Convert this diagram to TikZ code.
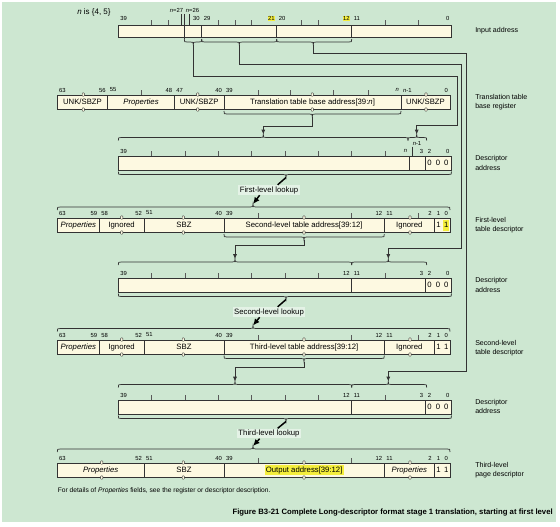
\documentclass[tikz,border=0pt]{standalone}
\usepackage{fontspec}
\setmainfont{Liberation Sans}
\usetikzlibrary{arrows.meta}
\definecolor{bggreen}{HTML}{CDE7D1}
\definecolor{cream}{HTML}{FDF9E1}
\definecolor{hiyel}{HTML}{F4EE3C}
\definecolor{ink}{HTML}{333333}
\definecolor{lookbg}{HTML}{E4F2E6}
\newcounter{labc}
\tikzset{
 cellline/.style={draw=ink, line width=0.55pt},
 celltext/.style={font=\fontsize{5.8}{6.5}\selectfont, inner sep=0pt, text=black},
 bitlab/.style={font=\fontsize{4.4}{5}\selectfont, inner sep=0.3pt, text=black},
 sidelab/.style={font=\fontsize{5.3}{7}\selectfont, align=left, anchor=west, inner sep=0pt},
 wire/.style={draw=ink, line width=0.55pt},
 tipS/.style={-{Latex[length=3.6pt,width=3pt]}},
 tickln/.style={draw=gray!70!black, line width=0.35pt},
 lookup/.style={font=\fontsize{5.8}{6.5}\selectfont, fill=lookbg, inner sep=1pt},
 lkline/.style={draw=black, line width=1.1pt},
 brkmark/.style={draw=ink, line width=0.3pt, fill=cream, rounded corners=0.5pt},
}
% cell: [node style]{name}{x1}{x2}{top}{bot}{text}
\newcommand\cell[7][]{%
  \draw[cellline,fill=cream] (#3,#5) rectangle (#4,#6);
  \node[celltext,#1] (#2) at ({(#3+#4)/2},{(#5+#6)/2}) {#7};}
% bit label: anchor x y text
\newcommand\bl[4]{\stepcounter{labc}\node[bitlab,anchor=#1] (lab\arabic{labc}) at (#2,#3) {#4};}
\newcommand\bly[4]{\stepcounter{labc}\node[bitlab,anchor=#1,fill=hiyel] (lab\arabic{labc}) at (#2,#3) {#4};}
% small digit inside a cell
\newcommand\dg[3]{\stepcounter{labc}\node[celltext] (lab\arabic{labc}) at (#1,#2) {#3};}
% brace below a box: x1 x2 xm y name
\newcommand\braceB[5]{%
  \draw[wire] (#1,#4-3) .. controls (#1,#4) .. (#1+3,#4) -- (#3-3,#4)
   .. controls (#3,#4) .. (#3,#4+3) .. controls (#3,#4) .. (#3+3,#4) -- (#2-3,#4)
   .. controls (#2,#4) .. (#2,#4-3);
  \coordinate (#5) at (#3,#4+3);}
% brace above a box
\newcommand\braceA[5]{%
  \draw[wire] (#1,#4+3) .. controls (#1,#4) .. (#1+3,#4) -- (#3-3,#4)
   .. controls (#3,#4) .. (#3,#4-3) .. controls (#3,#4) .. (#3+3,#4) -- (#2-3,#4)
   .. controls (#2,#4) .. (#2,#4+3);
  \coordinate (#5) at (#3,#4-3);}
% break marks: x top bot
\newcommand\mk[3]{%
  \draw[brkmark] (#1-1.1,#2-2.2) rectangle (#1+1.1,#2+1.2);
  \draw[brkmark] (#1-1.1,#3-1.2) rectangle (#1+1.1,#3+2.2);}
\newcommand\tks[2]{\foreach \t in {#2} {\draw[tickln] (\t,#1) -- (\t,#1-5);}}

\begin{document}
\begin{tikzpicture}[x=0.75pt,y=-0.75pt]
\useasboundingbox (0,0) rectangle (560,526);
\fill[bggreen] (2,2) rectangle (556,522);

% ---------------- Row 1: input address
\node[font=\fontsize{6}{7}\selectfont, anchor=west, inner sep=0pt] (nis) at (77,12.5) {\textit{n} is \{4, 5\}};
\tks{25}{151.7,168.3,218.3,235,251.7,301.7,318.3,385,418.3}
\cell{ia1}{118.3}{201.7}{25}{37.5}{}
\cell{ia2}{201.7}{276.7}{25}{37.5}{}
\cell{ia3}{276.7}{351.7}{25}{37.5}{}
\cell{ia4}{351.7}{451.5}{25}{37.5}{}
\draw[wire] (181,14) -- (181,25);
\draw[wire] (189,14) -- (189,25);
\draw[wire] (184.3,14) -- (184.3,39);
\bl{center}{176.5}{10.5}{\textit{n}=27}
\bl{center}{192.5}{10.5}{\textit{n}=26}
\bl{west}{119.8}{18.5}{39}
\bl{east}{200.2}{18.5}{30}
\bl{west}{203.2}{18.5}{29}
\bly{east}{275.2}{18.5}{21}
\bl{west}{278.2}{18.5}{20}
\bly{east}{350.2}{18.5}{12}
\bl{west}{353.2}{18.5}{11}
\bl{east}{450}{18.5}{0}
\braceB{184.3}{201.7}{193.3}{42}{r1bA}
\braceB{201.7}{276.7}{239.3}{42}{r1bB}
\braceB{276.7}{351.7}{313.3}{42}{r1bC}

% ---------------- Row 2: TTBR
\tks{95}{141.7,258.3,290,333.3,368.3}
\cell{t1}{57.3}{107.7}{95}{109}{UNK/SBZP}
\cell{t2}{107.7}{174.3}{95}{109}{\textit{Properties}}
\cell{t3}{174.3}{224}{95}{109}{UNK/SBZP}
\cell{t4}{224}{401}{95}{109}{Translation table base address[39:\textit{n}]}
\cell{t5}{401}{450}{95}{109}{UNK/SBZP}
\mk{83.3}{95}{109}\mk{197.7}{95}{109}\mk{312.3}{95}{109}\mk{426}{95}{109}
\bl{west}{58.5}{90}{63}
\bl{east}{106.2}{90}{56}
\bl{west}{109.2}{90}{55}
\bl{east}{172.8}{90}{48}
\bl{west}{175.8}{90}{47}
\bl{east}{222.5}{90}{40}
\bl{west}{225.5}{90}{39}
\bl{east}{399.5}{90}{\textit{n}}
\bl{west}{402.5}{90}{\textit{n}-1}
\bl{east}{448.5}{90}{0}
\braceB{224}{401}{312.3}{114}{r2b}

% ---------------- Row 3: descriptor address
\braceA{118.3}{408}{263.3}{137.5}{r3tL}
\braceA{408}{426.7}{416.7}{137.5}{r3tR}
\tks{156}{151.7,185,218.3,251.7,285,318.3,351.7,385}
\cell{d3a}{118.3}{409.3}{156}{170}{}
\cell{d3b}{409.3}{425.7}{156}{170}{}
\cell{d3c}{425.7}{451.5}{156}{170}{}
\draw[wire] (412.5,146.5) -- (412.5,156);
\bl{center}{417}{143.8}{\textit{n}-1}
\bl{west}{119.8}{151}{39}
\bl{east}{407.8}{151}{\textit{n}}
\bl{east}{423.8}{151}{3}
\bl{west}{427.2}{151}{2}
\bl{east}{450}{151}{0}
\dg{429.5}{163}{0}\dg{438}{163}{0}\dg{446.3}{163}{0}
\braceB{118.3}{451.5}{286}{174.5}{r3b}

% ---------------- Row 4: first-level table descriptor
\braceA{57.3}{450}{253}{207}{r4t}
\tks{218}{258.3,351.7,418.3}
\cell{f1}{57.3}{99.3}{218}{232}{\textit{Properties}}
\cell{f2}{99.3}{144}{218}{232}{Ignored}
\cell{f3}{144}{224}{218}{232}{SBZ}
\cell{f4}{224}{384.3}{218}{232}{Second-level table address[39:12]}
\cell{f5}{384.3}{434.3}{218}{232}{Ignored}
\cell{f6}{434.3}{450}{218}{232}{}
\fill[hiyel] (443,219.5) rectangle (449.2,230.8);
\dg{438.5}{225}{1}\dg{446.3}{225}{1}
\mk{121.7}{218}{232}\mk{183.3}{218}{232}\mk{304}{218}{232}\mk{410}{218}{232}
\bl{west}{58.5}{213}{63}
\bl{east}{97.8}{213}{59}
\bl{west}{100.8}{213}{58}
\bl{east}{142.5}{213}{52}
\bl{west}{145.5}{213}{51}
\bl{east}{222.5}{213}{40}
\bl{west}{225.5}{213}{39}
\bl{east}{382.8}{213}{12}
\bl{west}{385.8}{213}{11}
\bl{east}{432.3}{213}{2}
\bl{center}{438.5}{213}{1}
\bl{center}{446.3}{213}{0}
\braceB{224}{384.3}{304}{237}{r4b}

% ---------------- Row 5: descriptor address
\braceA{118.3}{351.7}{235}{262}{r5tL}
\braceA{351.7}{426.7}{388.3}{262}{r5tR}
\tks{278}{151.7,185,218.3,251.7,285,318.3,385}
\cell{d5a}{118.3}{351.7}{278}{292}{}
\cell{d5b}{351.7}{425.7}{278}{292}{}
\cell{d5c}{425.7}{451.5}{278}{292}{}
\bl{west}{119.8}{273}{39}
\bl{east}{350.2}{273}{12}
\bl{west}{353.2}{273}{11}
\bl{east}{423.8}{273}{3}
\bl{west}{427.2}{273}{2}
\bl{east}{450}{273}{0}
\dg{429.5}{285}{0}\dg{438}{285}{0}\dg{446.3}{285}{0}
\braceB{118.3}{451.5}{286}{296.5}{r5b}

% ---------------- Row 6: second-level table descriptor
\braceA{57.3}{450}{253}{328.5}{r6t}
\tks{340}{258.3,351.7,418.3}
\cell{s1}{57.3}{99.3}{340}{354}{\textit{Properties}}
\cell{s2}{99.3}{144}{340}{354}{Ignored}
\cell{s3}{144}{224}{340}{354}{SBZ}
\cell{s4}{224}{384.3}{340}{354}{Third-level table address[39:12]}
\cell{s5}{384.3}{434.3}{340}{354}{Ignored}
\cell{s6}{434.3}{450}{340}{354}{}
\dg{438.5}{347}{1}\dg{446.3}{347}{1}
\mk{121.7}{340}{354}\mk{183.3}{340}{354}\mk{304}{340}{354}\mk{410}{340}{354}
\bl{west}{58.5}{335}{63}
\bl{east}{97.8}{335}{59}
\bl{west}{100.8}{335}{58}
\bl{east}{142.5}{335}{52}
\bl{west}{145.5}{335}{51}
\bl{east}{222.5}{335}{40}
\bl{west}{225.5}{335}{39}
\bl{east}{382.8}{335}{12}
\bl{west}{385.8}{335}{11}
\bl{east}{432.3}{335}{2}
\bl{center}{438.5}{335}{1}
\bl{center}{446.3}{335}{0}
\braceB{224}{384.3}{304}{358.5}{r6b}

% ---------------- Row 7: descriptor address
\braceA{118.3}{351.7}{235}{384.5}{r7tL}
\braceA{351.7}{426.7}{388.3}{384.5}{r7tR}
\tks{400}{151.7,185,218.3,251.7,285,318.3,385}
\cell{d7a}{118.3}{351.7}{400}{414}{}
\cell{d7b}{351.7}{425.7}{400}{414}{}
\cell{d7c}{425.7}{451.5}{400}{414}{}
\bl{west}{119.8}{395}{39}
\bl{east}{350.2}{395}{12}
\bl{west}{353.2}{395}{11}
\bl{east}{423.8}{395}{3}
\bl{west}{427.2}{395}{2}
\bl{east}{450}{395}{0}
\dg{429.5}{407}{0}\dg{438}{407}{0}\dg{446.3}{407}{0}
\braceB{118.3}{451.5}{286}{418.5}{r7b}

% ---------------- Row 8: third-level page descriptor
\braceA{57.3}{450}{253}{449}{r8t}
\tks{463}{258.3,351.7}
\cell{p1}{57.3}{144}{463}{477}{\textit{Properties}}
\cell{p2}{144}{224}{463}{477}{SBZ}
\cell[fill=hiyel,inner sep=1pt]{p3}{224}{384.3}{463}{477}{Output address[39:12]}
\cell{p4}{384.3}{434.3}{463}{477}{\textit{Properties}}
\cell{p5}{434.3}{450}{463}{477}{}
\dg{438.5}{470}{1}\dg{446.3}{470}{1}
\mk{101.7}{463}{477}\mk{183.3}{463}{477}\mk{304}{463}{477}\mk{410}{463}{477}
\bl{west}{58.5}{458}{63}
\bl{east}{142.5}{458}{52}
\bl{west}{145.5}{458}{51}
\bl{east}{222.5}{458}{40}
\bl{west}{225.5}{458}{39}
\bl{east}{382.8}{458}{12}
\bl{west}{385.8}{458}{11}
\bl{east}{432.3}{458}{2}
\bl{center}{438.5}{458}{1}
\bl{center}{446.3}{458}{0}

% ---------------- wires
\coordinate (ca1) at (457,76.7);
\coordinate (ca2) at (416.7,125);
\coordinate (cb1) at (461.5,64.3);
\coordinate (cb2) at (388.3,248.3);
\coordinate (cc1) at (466,53.3);
\coordinate (cc2) at (388.3,371.7);
\coordinate (c21) at (263.3,126);
\coordinate (c41) at (235,245);
\coordinate (c61) at (235,367.3);
\draw[wire,tipS] (r1bA) |- (ca1) |- (ca2) -- (r3tR);
\draw[wire,tipS] (r1bB) |- (cb1) |- (cb2) -- (r5tR);
\draw[wire,tipS] (r1bC) |- (cc1) |- (cc2) -- (r7tR);
\draw[wire,tipS] (r2b) |- (c21) -- (r3tL);
\draw[wire,tipS] (r4b) |- (c41) -- (r5tL);
\draw[wire,tipS] (r6b) |- (c61) -- (r7tL);

% ---------------- lookups
\node[lookup] (lk1) at (269,190) {First-level lookup};
\node[lookup] (lk2) at (269,312) {Second-level lookup};
\node[lookup] (lk3) at (269,433.5) {Third-level lookup};
\draw[lkline] (r3b) -- ([xshift=6.5pt]lk1.north);
\draw[lkline,-{Latex[length=5pt,width=4.5pt]}] ([xshift=-7pt]lk1.south) -- (r4t);
\draw[lkline] (r5b) -- ([xshift=6.5pt]lk2.north);
\draw[lkline,-{Latex[length=5pt,width=4.5pt]}] ([xshift=-7pt]lk2.south) -- (r6t);
\draw[lkline] (r7b) -- ([xshift=6.5pt]lk3.north);
\draw[lkline,-{Latex[length=5pt,width=4.5pt]}] ([xshift=-7pt]lk3.south) -- (r8t);

% ---------------- side labels
\node[sidelab] (L1) at (475,31) {Input address};
\node[sidelab] (L2) at (475,102) {Translation table\\base register};
\node[sidelab] (L3) at (475,163) {Descriptor\\address};
\node[sidelab] (L4) at (475,225) {First-level\\table descriptor};
\node[sidelab] (L5) at (475,285) {Descriptor\\address};
\node[sidelab] (L6) at (475,348) {Second-level\\table descriptor};
\node[sidelab] (L7) at (475,406.5) {Descriptor\\address};
\node[sidelab] (L8) at (475,470) {Third-level\\page descriptor};

% ---------------- notes
\node[font=\fontsize{5}{6}\selectfont, anchor=west, inner sep=0pt] (fn) at (57.5,490.5)
  {For details of \textit{Properties} fields, see the register or descriptor description.};
\node[font=\fontsize{5.8}{7}\selectfont\bfseries, anchor=east, inner sep=0pt] (cap) at (553,513)
  {Figure B3-21 Complete Long-descriptor format stage 1 translation, starting at first level};
\end{tikzpicture}
\end{document}
